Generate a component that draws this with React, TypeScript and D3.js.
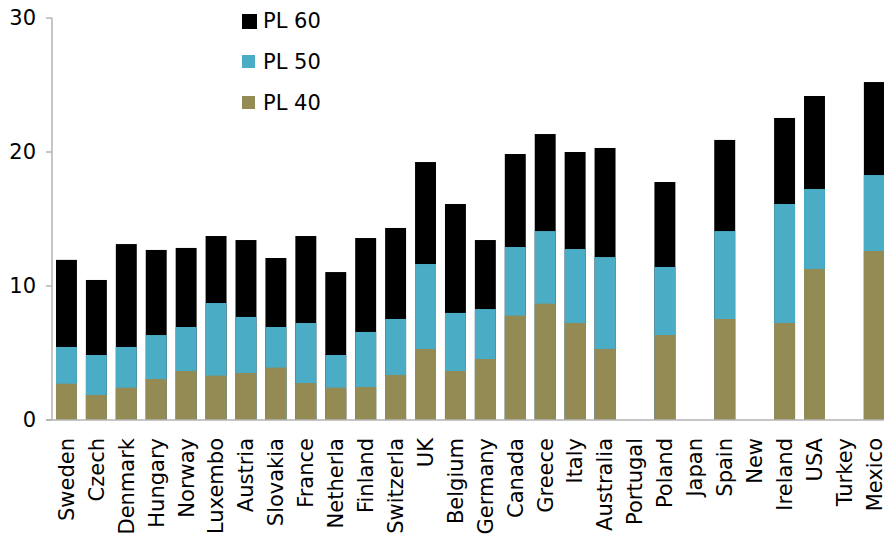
import React from "react";
import * as d3 from "d3";

const categories = ["Sweden","Czech","Denmark","Hungary","Norway","Luxembo","Austria","Slovakia","France","Netherla","Finland","Switzerla","UK","Belgium","Germany","Canada","Greece","Italy","Australia","Portugal","Poland","Japan","Spain","New","Ireland","USA","Turkey","Mexico"];
const pl60: (number | null)[] = [11.95,10.45,13.13,12.69,12.84,13.73,13.43,12.09,13.73,11.04,13.58,14.33,19.25,16.12,13.43,19.85,21.34,20.0,20.3,null,17.76,null,20.9,null,22.54,24.18,null,25.22];
const pl50: (number | null)[] = [5.45,4.85,5.45,6.34,6.94,8.73,7.69,6.94,7.24,4.85,6.57,7.54,11.64,7.99,8.28,12.91,14.1,12.76,12.16,null,11.42,null,14.1,null,16.12,17.24,null,18.28];
const pl40: (number | null)[] = [2.71,1.87,2.41,3.06,3.66,3.31,3.51,3.91,2.76,2.41,2.46,3.36,5.3,3.66,4.55,7.79,8.68,7.24,5.3,null,6.34,null,7.54,null,7.24,11.27,null,12.61];
const yTicks = [0, 10, 20, 30];
const seriesNames = ["PL 60", "PL 50", "PL 40"];

const W = 884, H = 543;
const FONT = "'DejaVu Sans', Verdana, sans-serif";
const colors = ["#000000", "#4BACC6", "#948A54"];

export default function App() {
  const x = d3.scaleBand<string>().domain(categories).range([51.5, 889.3]).paddingInner(0.3).paddingOuter(0.15);
  const y = d3.scaleLinear().domain([0, 30]).range([420, 18]);
  const series = [pl60, pl50, pl40];
  const axisColor = "#b3b3b3";
  return (
    <svg width={W} height={H} style={{ position: "absolute", left: 0, top: 0, background: "#fff" }} fontFamily={FONT}>
      {series.map((s, si) => (
        <g key={si} fill={colors[si]}>
          {categories.map((c, i) => {
            const v = s[i];
            if (v == null) return null;
            return <rect key={c} x={x(c)} y={y(v)} width={x.bandwidth()} height={y(0) - y(v)} />;
          })}
        </g>
      ))}
      <line x1={52} x2={52} y1={18} y2={420} stroke={axisColor} strokeWidth={1.5} />
      <line x1={46} x2={W} y1={420} y2={420} stroke={axisColor} strokeWidth={1.5} />
      {yTicks.map((t) => (
        <g key={t}>
          <line x1={46} x2={52} y1={y(t)} y2={y(t)} stroke={axisColor} strokeWidth={1.5} />
          <text x={36} y={y(t)} dy="0.35em" textAnchor="end" fontSize={21} fill="#000">{t}</text>
        </g>
      ))}
      {categories.map((c) => (
        <text key={c} transform={`translate(${(x(c) ?? 0) + x.bandwidth() / 2},438) rotate(-90)`} dy="0.35em" textAnchor="end" fontSize={21} fill="#000">{c}</text>
      ))}
      {seriesNames.map((n, i) => (
        <g key={n} transform={`translate(242,${21 + i * 41})`}>
          <rect x={0} y={-7} width={i === 0 ? 15 : 13} height={i === 0 ? 15 : 13} fill={colors[i]} />
          <text x={21} y={0} dy="0.35em" fontSize={21} fill="#000">{n}</text>
        </g>
      ))}
    </svg>
  );
}
